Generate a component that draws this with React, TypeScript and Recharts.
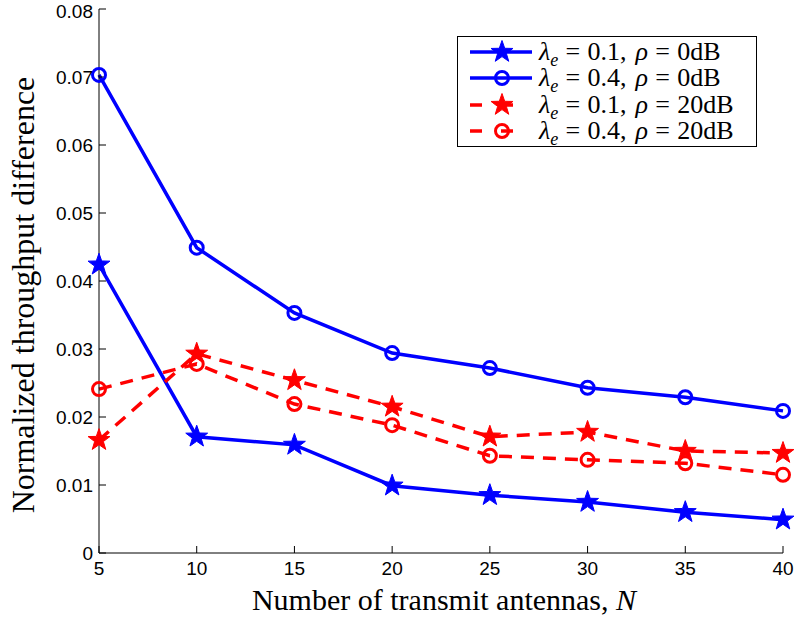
import React from 'react'
import { LineChart, Line, XAxis, YAxis, Label } from 'recharts'

const antennas = [5, 10, 15, 20, 25, 30, 35, 40]
const lam01Rho0 = [0.0424, 0.0171, 0.0159, 0.0099, 0.0085, 0.0075, 0.006, 0.0049]
const lam04Rho0 = [0.0703, 0.0449, 0.0353, 0.0294, 0.0272, 0.0243, 0.0229, 0.0209]
const lam01Rho20 = [0.0166, 0.0293, 0.0254, 0.0215, 0.0171, 0.0178, 0.015, 0.0147]
const lam04Rho20 = [0.0241, 0.0278, 0.0219, 0.0188, 0.0143, 0.0137, 0.0132, 0.0115]

const xTicks = [5, 10, 15, 20, 25, 30, 35, 40]
const yTicks = [0, 0.01, 0.02, 0.03, 0.04, 0.05, 0.06, 0.07, 0.08]

const legendItems = [
  { lam: '0.1', rho: '0dB', color: '#0000ff', dashed: false, marker: 'star' },
  { lam: '0.4', rho: '0dB', color: '#0000ff', dashed: false, marker: 'circle' },
  { lam: '0.1', rho: '20dB', color: '#ff0000', dashed: true, marker: 'star' },
  { lam: '0.4', rho: '20dB', color: '#ff0000', dashed: true, marker: 'circle' },
]

const data = antennas.map((n, i) => ({
  n,
  a: lam01Rho0[i],
  b: lam04Rho0[i],
  c: lam01Rho20[i],
  d: lam04Rho20[i],
}))

const BLUE = '#0000ff'
const RED = '#ff0000'
const DASH = '13 9'
const tickFont = { fontSize: 19, fill: '#000', fontFamily: 'Liberation Sans, Arial, sans-serif' }
const serif = 'Liberation Serif, Times New Roman, serif'

const starPoints = (cx: number, cy: number, R: number) => {
  const r = R * 0.4
  const pts: string[] = []
  for (let k = 0; k < 10; k++) {
    const rad = k % 2 === 0 ? R : r
    const ang = -Math.PI / 2 + (k * Math.PI) / 5
    pts.push(`${cx + rad * Math.cos(ang)},${cy + rad * Math.sin(ang)}`)
  }
  return pts.join(' ')
}

const Marker = ({ cx, cy, color, kind }: { cx: number; cy: number; color: string; kind: string }) =>
  kind === 'star' ? (
    <polygon points={starPoints(cx, cy, 11.5)} fill={color} stroke={color} strokeWidth={1} />
  ) : (
    <circle cx={cx} cy={cy} r={6.5} fill="none" stroke={color} strokeWidth={3} />
  )

const dotFor = (color: string, kind: string) => (props: any) =>
  <Marker key={`${kind}-${color}-${props.index}`} cx={props.cx} cy={props.cy} color={color} kind={kind} />

const Eq = () => <span style={{ margin: '0 0.28em' }}>=</span>

// legend sits on top of the plot, MATLAB style, so it is drawn outside the chart layout
const LegendBox = () => (
  <div
    style={{
      position: 'absolute',
      left: 457,
      top: 36,
      width: 300,
      height: 111,
      border: '1.5px solid #000',
      background: '#fff',
      padding: '2px 0 0 12px',
      fontFamily: serif,
      fontSize: 26,
      lineHeight: '26.3px',
      boxSizing: 'border-box',
    }}
  >
    {legendItems.map((it, i) => (
      <div key={i} style={{ display: 'flex', alignItems: 'center', whiteSpace: 'nowrap', height: 26.3 }}>
        <svg width={64} height={26} style={{ marginRight: 5, flex: 'none' }}>
          <line
            x1={0}
            y1={13}
            x2={62}
            y2={13}
            stroke={it.color}
            strokeWidth={3.5}
            strokeDasharray={it.dashed ? '12 19' : undefined}
          />
          <Marker cx={32} cy={13} color={it.color} kind={it.marker} />
        </svg>
        <span>
          <i>λ</i>
          <sub style={{ fontSize: 18, fontStyle: 'italic', lineHeight: 0 }}>e</sub>
          <Eq />
          {it.lam},<span style={{ marginLeft: '0.35em' }} />
          <i>ρ</i>
          <Eq />
          {it.rho}
        </span>
      </div>
    ))}
  </div>
)

export default function App() {
  return (
    <div style={{ position: 'absolute', left: 0, top: 0, width: 797, height: 617, background: '#fff' }}>
      <LineChart width={797} height={617} data={data} margin={{ top: 9, right: 14, bottom: 0, left: 0 }}>
        <XAxis
          dataKey="n"
          type="number"
          domain={[5, 40]}
          ticks={xTicks}
          height={64}
          stroke="#000"
          tick={tickFont}
          tickSize={-7}
          tickMargin={16}
        >
          <Label
            content={() => (
              <text x={444} y={610} textAnchor="middle" fontFamily={serif} fontSize={30} fill="#000">
                Number of transmit antennas, <tspan fontStyle="italic">N</tspan>
              </text>
            )}
          />
        </XAxis>
        <XAxis
          xAxisId="top"
          dataKey="n"
          type="number"
          orientation="top"
          domain={[5, 40]}
          ticks={xTicks}
          height={0}
          stroke="#000"
          tickSize={-7}
          tickFormatter={() => ''}
        />
        <YAxis
          domain={[0, 0.08]}
          ticks={yTicks}
          width={99}
          stroke="#000"
          tick={tickFont}
          tickSize={-7}
          tickMargin={13}
          tickFormatter={(v: number) => (v === 0 ? '0' : v.toFixed(2))}
        >
          <Label
            content={() => (
              <text
                x={34}
                y={295}
                textAnchor="middle"
                fontFamily={serif}
                fontSize={32}
                fill="#000"
                transform="rotate(-90 34 295)"
              >
                Normalized throughput difference
              </text>
            )}
          />
        </YAxis>
        <YAxis
          yAxisId="right"
          orientation="right"
          domain={[0, 0.08]}
          ticks={yTicks}
          width={0}
          stroke="#000"
          tickSize={-7}
          tickFormatter={() => ''}
        />
        <Line dataKey="a" stroke={BLUE} strokeWidth={3.5} dot={dotFor(BLUE, 'star')} activeDot={false} isAnimationActive={false} />
        <Line dataKey="b" stroke={BLUE} strokeWidth={3.5} dot={dotFor(BLUE, 'circle')} activeDot={false} isAnimationActive={false} />
        <Line dataKey="c" stroke={RED} strokeWidth={3.5} strokeDasharray={DASH} dot={dotFor(RED, 'star')} activeDot={false} isAnimationActive={false} />
        <Line dataKey="d" stroke={RED} strokeWidth={3.5} strokeDasharray={DASH} dot={dotFor(RED, 'circle')} activeDot={false} isAnimationActive={false} />
      </LineChart>
      <LegendBox />
    </div>
  )
}
